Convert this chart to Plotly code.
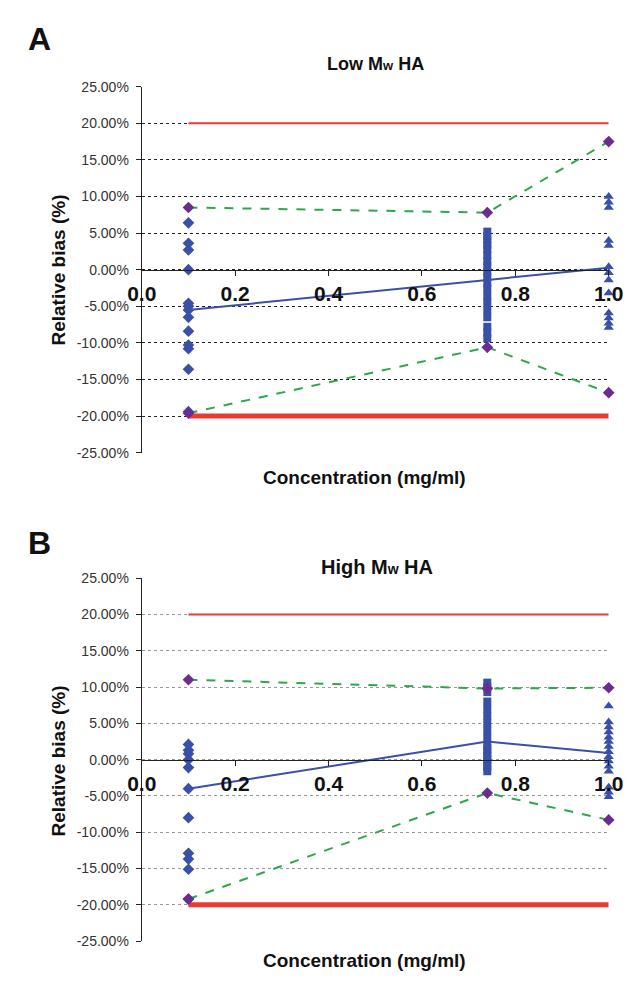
import plotly.graph_objects as go

W, H = 638, 989

conc = [0.1, 0.74, 1.0]
limit_x = [0.1, 1.0]
limit_hi = [20, 20]
limit_lo = [-20, -20]

# Panel A – Low Mw HA (relative bias, %)
A_c1 = [6.4, 3.6, 2.7, 0.0, -4.6, -5.0, -5.5, -6.5, -8.4, -10.3, -10.8, -13.6, -19.4]
A_c2 = [5.2, 4.6, 4.0, 3.4, 2.8, 2.0, 1.2, 0.5, -0.3, -1.0, -1.8, -2.6, -3.6,
        -4.5, -5.5, -6.5, -7.8, -8.6, -9.4]
A_c3 = [10.0, 9.2, 8.5, 4.0, 3.3, 0.4, -0.4, -1.4, -3.2, -5.9, -6.6, -7.3, -7.9]
A_mean = [-5.5, -1.4, 0.27]
A_upper = [8.5, 7.8, 17.5]
A_lower = [-19.6, -10.6, -16.8]

# Panel B – High Mw HA (relative bias, %)
B_c1 = [2.1, 1.3, 0.8, 0.0, -1.1, -4.0, -8.0, -12.9, -13.7, -15.1, -19.2]
B_c2 = [10.6, 10.0, 9.3, 8.0, 7.0, 6.0, 5.0, 4.0, 3.0, 2.0, 1.5, 1.0, 0.5, 0.0,
        -0.5, -1.0, -1.6]
B_c3 = [7.4, 5.2, 4.5, 3.8, 3.1, 2.5, 1.8, 1.1, 0.4, -0.2, -0.9, -1.6, -3.8, -4.5, -5.1]
B_mean = [-4.0, 2.5, 0.9]
B_upper = [11.0, 9.8, 9.9]
B_lower = [-19.2, -4.6, -8.3]

y_ticks = [25, 20, 15, 10, 5, 0, -5, -10, -15, -20, -25]
y_ticktext = ["25.00%", "20.00%", "15.00%", "10.00%", "5.00%", "0.00%",
              "-5.00%", "-10.00%", "-15.00%", "-20.00%", "-25.00%"]
x_ticks = [0.0, 0.2, 0.4, 0.6, 0.8, 1.0]
x_ticktext = ["0.0", "0.2", "0.4", "0.6", "0.8", "1.0"]

BLUE = "#3A50A8"
PURPLE = "#6A2D8F"
GREEN = "#2CA84A"
RED = "#EC3A32"
FONT = "Liberation Sans, Arial, sans-serif"

fig = go.Figure()

def px_x(p):
    return p / W

def px_y(p):
    return 1 - p / H

panels = [
    dict(xa="x", ya="y", xn="xaxis", yn="yaxis", top=80, bot=452,
         c1=A_c1, c2=A_c2, c3=A_c3, mean=A_mean, up=A_upper, lo=A_lower,
         grid="#222222"),
    dict(xa="x2", ya="y2", xn="xaxis2", yn="yaxis2", top=579.5, bot=948.5,
         c1=B_c1, c2=B_c2, c3=B_c3, mean=B_mean, up=B_upper, lo=B_lower,
         grid="#999999"),
]

for p in panels:
    xa, ya = p["xa"], p["ya"]
    fig.add_trace(go.Scatter(x=limit_x, y=limit_hi, mode="lines",
                             line=dict(color=RED, width=2), xaxis=xa, yaxis=ya,
                             showlegend=False, hoverinfo="skip", cliponaxis=False))
    fig.add_trace(go.Scatter(x=limit_x, y=limit_lo, mode="lines",
                             line=dict(color=RED, width=5), xaxis=xa, yaxis=ya,
                             showlegend=False, hoverinfo="skip", cliponaxis=False))
    for arr in (p["up"], p["lo"]):
        fig.add_trace(go.Scatter(x=conc, y=arr, mode="lines",
                                 line=dict(color=GREEN, width=2, dash="dash"),
                                 xaxis=xa, yaxis=ya, showlegend=False,
                                 cliponaxis=False))
    fig.add_trace(go.Scatter(x=conc, y=p["mean"], mode="lines",
                             line=dict(color=BLUE, width=2), xaxis=xa, yaxis=ya,
                             showlegend=False, cliponaxis=False))
    fig.add_trace(go.Scatter(x=[conc[0]] * len(p["c1"]), y=p["c1"], mode="markers",
                             marker=dict(symbol="diamond", size=9, color=BLUE),
                             xaxis=xa, yaxis=ya, showlegend=False, cliponaxis=False))
    fig.add_trace(go.Scatter(x=[conc[1]] * len(p["c2"]), y=p["c2"], mode="markers",
                             marker=dict(symbol="square", size=8, color=BLUE),
                             xaxis=xa, yaxis=ya, showlegend=False, cliponaxis=False))
    fig.add_trace(go.Scatter(x=[conc[2]] * len(p["c3"]), y=p["c3"], mode="markers",
                             marker=dict(symbol="triangle-up", size=9, color=BLUE),
                             xaxis=xa, yaxis=ya, showlegend=False, cliponaxis=False))
    fig.add_trace(go.Scatter(x=conc + conc, y=p["up"] + p["lo"], mode="markers",
                             marker=dict(symbol="diamond", size=9, color=PURPLE),
                             xaxis=xa, yaxis=ya, showlegend=False, cliponaxis=False))

layout = dict(
    width=W, height=H,
    margin=dict(l=0, r=0, t=0, b=0),
    paper_bgcolor="white", plot_bgcolor="white",
    font=dict(family=FONT, color="#222222"),
)

x_left, x_right = 133, 623
for p in panels:
    dom_y = [px_y(p["bot"]), px_y(p["top"])]
    layout[p["xn"]] = dict(
        domain=[px_x(x_left), px_x(x_right)], range=[0, 1.0],
        anchor="free", position=(dom_y[0] + dom_y[1]) / 2,
        tickmode="array", tickvals=x_ticks, ticktext=x_ticktext,
        ticks="outside", ticklen=5, tickcolor="#222", showgrid=False,
        showline=True, linecolor="#222", linewidth=1.2, zeroline=False,
        tickfont=dict(family=FONT, size=21, color="#111", weight="bold"),
    )
    layout[p["yn"]] = dict(
        domain=dom_y, range=[-25, 25], anchor=p["xa"],
        tickmode="array", tickvals=y_ticks, ticktext=y_ticktext,
        ticks="outside", ticklen=5, tickcolor="#222", ticklabelstandoff=4,
        showline=True, linecolor="#222", linewidth=1.2, zeroline=False,
        showgrid=True, gridcolor=p["grid"], griddash="dot", gridwidth=1,
        tickfont=dict(family=FONT, size=14, color="#333"),
    )

annotations = []
def ann(text, x, y, size, angle=0, bold=True):
    annotations.append(dict(
        text=("<b>%s</b>" % text) if bold else text, x=px_x(x), y=px_y(y),
        xref="paper", yref="paper", showarrow=False, textangle=angle,
        font=dict(family=FONT, size=size, color="#111"),
        xanchor="center", yanchor="middle"))

ann("A", 26, 32, 32)
ann("B", 26, 544, 32)
ann("Low M<span style='font-size:13px'>w</span> HA", 378, 57, 18)
ann("High M<span style='font-size:14px'>w</span> HA", 380, 568, 20)
ann("Concentration (mg/ml)", 367, 477, 19)
ann("Concentration (mg/ml)", 367, 968, 19)
ann("Relative bias (%)", 46, 266, 19, angle=-90)
ann("Relative bias (%)", 46, 765, 19, angle=-90)

layout["annotations"] = annotations
fig.update_layout(**layout)
fig.write_html("out.html", config={"displayModeBar": False},
               post_script="document.body.style.margin='0';"
                           "document.body.style.overflow='hidden';")
